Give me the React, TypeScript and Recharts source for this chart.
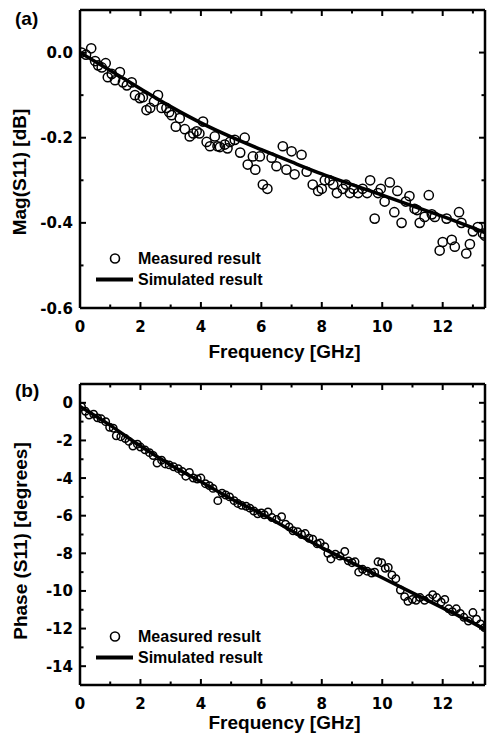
import React from "react";
import { ComposedChart, Scatter, Line, XAxis, YAxis, Legend } from "recharts";

const TICK_FONT = "'DejaVu Sans', sans-serif";
const TITLE_FONT = "'Liberation Sans', Arial, sans-serif";

const FREQ_TICKS = [0, 1, 2, 3, 4, 5, 6, 7, 8, 9, 10, 11, 12, 13];
const MAG_TICKS = [-0.6, -0.5, -0.4, -0.3, -0.2, -0.1, 0, 0.1];
const PHASE_TICKS = [-15, -14, -13, -12, -11, -10, -9, -8, -7, -6, -5, -4, -3, -2, -1, 0, 1];

// (a) magnitude, measured
const magFreq = [
  0.05, 0.2, 0.37, 0.5, 0.6, 0.72, 0.85, 0.92, 1.05, 1.16, 1.32, 1.42, 1.55, 1.71, 1.82, 1.98, 2.08, 2.2,
  2.32, 2.45, 2.58, 2.7, 2.86, 2.95, 3.03, 3.17, 3.3, 3.47, 3.63, 3.75, 3.86, 3.95, 4.07, 4.19, 4.3, 4.46,
  4.55, 4.63, 4.79, 4.88, 4.96, 5.12, 5.3, 5.45, 5.55, 5.72, 5.8, 5.95, 6.05, 6.2, 6.34, 6.5, 6.71, 6.83,
  7.0, 7.1, 7.33, 7.5, 7.7, 7.88, 8.0, 8.1, 8.26, 8.38, 8.5, 8.7, 8.8, 8.93, 9.05, 9.2, 9.35, 9.5, 9.6,
  9.75, 9.86, 9.95, 10.08, 10.25, 10.4, 10.5, 10.64, 10.78, 10.9, 11.07, 11.15, 11.24, 11.4, 11.54, 11.64,
  11.74, 11.9, 12.0, 12.13, 12.3, 12.4, 12.54, 12.62, 12.78, 12.9, 13.0, 13.16, 13.33, 13.4,
];
const magMeasured = [
  0.0, -0.005, 0.01, -0.02, -0.03, -0.035, -0.025, -0.058, -0.05, -0.065, -0.046, -0.07, -0.077, -0.07, -0.1,
  -0.107, -0.105, -0.135, -0.13, -0.115, -0.1, -0.13, -0.13, -0.14, -0.147, -0.174, -0.154, -0.18, -0.197,
  -0.19, -0.185, -0.19, -0.162, -0.21, -0.22, -0.197, -0.22, -0.222, -0.216, -0.225, -0.21, -0.205, -0.235,
  -0.2, -0.263, -0.244, -0.275, -0.244, -0.31, -0.32, -0.247, -0.267, -0.22, -0.275, -0.232, -0.286, -0.24,
  -0.28, -0.31, -0.325, -0.32, -0.3, -0.3, -0.31, -0.33, -0.32, -0.31, -0.33, -0.32, -0.33, -0.32, -0.33,
  -0.3, -0.39, -0.33, -0.32, -0.35, -0.305, -0.375, -0.325, -0.4, -0.35, -0.337, -0.367, -0.37, -0.4, -0.386,
  -0.335, -0.38, -0.386, -0.465, -0.445, -0.39, -0.44, -0.456, -0.375, -0.4, -0.472, -0.45, -0.42, -0.41,
  -0.425, -0.43,
];
// (a) magnitude, simulated
const magSimFreq = [0, 1, 2, 3, 4, 5, 6, 7, 8, 9, 10, 11, 12, 13, 13.4];
const magSimulated = [0, -0.042, -0.085, -0.127, -0.165, -0.198, -0.228, -0.257, -0.285, -0.31, -0.335, -0.36, -0.385, -0.412, -0.423];

// (b) phase, measured
const phaseFreq = [
  0.05, 0.18, 0.3, 0.45, 0.58, 0.7, 0.85, 0.98, 1.1, 1.2, 1.35, 1.5, 1.62, 1.75, 1.9, 2.0, 2.15, 2.3, 2.42,
  2.55, 2.7, 2.82, 2.95, 3.1, 3.25, 3.38, 3.5, 3.62, 3.75, 3.88, 4.0, 4.15, 4.28, 4.4, 4.56, 4.7, 4.82, 4.95,
  5.1, 5.22, 5.35, 5.5, 5.62, 5.75, 5.88, 6.0, 6.1, 6.22, 6.35, 6.5, 6.67, 6.8, 6.92, 7.05, 7.2, 7.33, 7.45,
  7.58, 7.7, 7.85, 7.95, 8.1, 8.2, 8.3, 8.45, 8.6, 8.76, 8.88, 9.0, 9.1, 9.22, 9.35, 9.5, 9.65, 9.75, 9.86,
  9.98, 10.1, 10.2, 10.32, 10.45, 10.6, 10.74, 10.85, 11.0, 11.12, 11.25, 11.4, 11.55, 11.67, 11.8, 11.95,
  12.07, 12.2, 12.32, 12.45, 12.58, 12.7, 12.85, 13.0, 13.12, 13.25, 13.38,
];
const phaseMeasured = [
  -0.2, -0.45, -0.65, -0.6, -0.8, -0.85, -1.0, -1.3, -1.35, -1.75, -1.8, -1.9, -2.05, -2.3, -2.2, -2.35, -2.5,
  -2.65, -2.8, -3.2, -3.05, -3.25, -3.3, -3.4, -3.5, -3.65, -3.9, -3.7, -4.0, -4.05, -4.0, -4.3, -4.4, -4.55,
  -5.2, -4.8, -4.9, -5.0, -5.2, -5.35, -5.45, -5.5, -5.6, -5.75, -5.9, -5.85, -5.95, -5.8, -6.1, -6.2, -6.05,
  -6.45, -6.6, -6.8, -6.85, -7.0, -6.95, -7.2, -7.25, -7.5, -7.45, -7.65, -8.0, -8.3, -8.05, -8.15, -7.9,
  -8.4, -8.5, -8.45, -9.0, -8.85, -8.95, -9.05, -9.0, -8.45, -8.5, -8.8, -8.75, -9.15, -9.35, -9.95, -10.3,
  -10.55, -10.45, -10.5, -10.35, -10.5, -10.4, -10.2, -10.35, -10.6, -10.45, -10.95, -11.1, -10.95, -11.2,
  -11.4, -11.6, -11.15, -11.5, -11.75, -11.95,
];
// (b) phase, simulated
const phaseSimFreq = [0, 1, 2, 3, 4, 5, 6, 7, 8, 9, 10, 11, 12, 13, 13.4];
const phaseSimulated = [-0.2, -1.2, -2.3, -3.3, -4.2, -5.1, -5.9, -6.8, -7.7, -8.5, -9.3, -10.1, -10.9, -11.7, -12.05];

const zip = (fs: number[], vs: number[]) => fs.map((f, i) => ({ f, v: vs[i] }));

const PLOT_LEFT = 80;
const PLOT_RIGHT = 485;
const CHART_W = 487;

interface PanelProps {
  tag: string;
  tagY: number;
  height: number;
  top: number;
  bottom: number;
  yTicks: number[];
  yDomain: [number, number];
  isMajorY: (v: number) => boolean;
  fmtY: (v: number) => string;
  yTitle: string;
  yTitleX: number;
  yTitleY: number;
  xTitleDy: number;
  legendTop: number;
  measured: { f: number; v: number }[];
  simulated: { f: number; v: number }[];
  r: number;
}

function Panel(p: PanelProps) {
  const plotBottom = p.height - p.bottom;

  const bottomTick = (t: any) => {
    const major = t.payload.value % 2 === 0;
    return (
      <g>
        <line x1={t.x} x2={t.x} y1={t.y} y2={t.y - (major ? 6 : 3.5)} stroke="#000" strokeWidth={2} />
        {major && (
          <text x={t.x} y={t.y + 23.5} textAnchor="middle" fontFamily={TICK_FONT} fontWeight="bold" fontSize={15} fill="#000">
            {t.payload.value}
          </text>
        )}
      </g>
    );
  };
  const topTick = (t: any) => {
    const major = t.payload.value % 2 === 0;
    return <line x1={t.x} x2={t.x} y1={t.y} y2={t.y + (major ? 6 : 3.5)} stroke="#000" strokeWidth={2} />;
  };
  const leftTick = (t: any) => {
    const major = p.isMajorY(t.payload.value);
    return (
      <g>
        <line x1={t.x} x2={t.x + (major ? 6 : 3.5)} y1={t.y} y2={t.y} stroke="#000" strokeWidth={2} />
        {major && (
          <text x={t.x - 7} y={t.y + 5.5} textAnchor="end" fontFamily={TICK_FONT} fontWeight="bold" fontSize={15} fill="#000">
            {p.fmtY(t.payload.value)}
          </text>
        )}
      </g>
    );
  };
  const rightTick = (t: any) => {
    const major = p.isMajorY(t.payload.value);
    return <line x1={t.x} x2={t.x - (major ? 6 : 3.5)} y1={t.y} y2={t.y} stroke="#000" strokeWidth={2} />;
  };

  const xTitle = () => (
    <text
      x={(PLOT_LEFT + PLOT_RIGHT) / 2 + 2}
      y={plotBottom + p.xTitleDy}
      textAnchor="middle"
      fontFamily={TITLE_FONT}
      fontWeight="bold"
      fontSize={19}
      fill="#000"
    >
      Frequency [GHz]
    </text>
  );
  const yTitle = () => (
    <g>
      <text x={15} y={p.tagY} fontFamily={TITLE_FONT} fontWeight="bold" fontSize={19} fill="#000">
        {p.tag}
      </text>
      <text
        x={p.yTitleX}
        y={p.yTitleY}
        transform={`rotate(-90, ${p.yTitleX}, ${p.yTitleY})`}
        textAnchor="middle"
        fontFamily={TITLE_FONT}
        fontWeight="bold"
        fontSize={19}
        fill="#000"
      >
        {p.yTitle}
      </text>
    </g>
  );

  const legend = () => (
    <div style={{ fontFamily: TITLE_FONT, fontWeight: "bold", fontSize: 16, color: "#000", lineHeight: "21px" }}>
      <div style={{ display: "flex", alignItems: "center", height: 21 }}>
        <svg width={40} height={21}>
          <circle cx={21} cy={10.5} r={4.5} fill="none" stroke="#000" strokeWidth={1.6} />
        </svg>
        <span style={{ marginLeft: 4 }}>Measured result</span>
      </div>
      <div style={{ display: "flex", alignItems: "center", height: 21 }}>
        <svg width={40} height={21}>
          <line x1={2} x2={39} y1={10.5} y2={10.5} stroke="#000" strokeWidth={4} />
        </svg>
        <span style={{ marginLeft: 4 }}>Simulated result</span>
      </div>
    </div>
  );

  return (
    <ComposedChart
      width={CHART_W}
      height={p.height}
      margin={{ top: p.top - 1, right: CHART_W - PLOT_RIGHT - 1, bottom: p.bottom - 1, left: 0 }}
    >
      <XAxis
        xAxisId="b"
        dataKey="f"
        type="number"
        domain={[0, 13.4]}
        allowDataOverflow
        ticks={FREQ_TICKS}
        interval={0}
        height={1}
        tickSize={0}
        tickMargin={0}
        tickLine={false}
        axisLine={{ stroke: "#000", strokeWidth: 2.5 }}
        tick={bottomTick}
        label={xTitle}
      />
      <XAxis
        xAxisId="t"
        orientation="top"
        dataKey="f"
        type="number"
        domain={[0, 13.4]}
        allowDataOverflow
        ticks={FREQ_TICKS}
        interval={0}
        height={1}
        tickSize={0}
        tickMargin={0}
        tickLine={false}
        axisLine={{ stroke: "#000", strokeWidth: 2.5 }}
        tick={topTick}
      />
      <YAxis
        yAxisId="l"
        dataKey="v"
        type="number"
        domain={p.yDomain}
        allowDataOverflow
        ticks={p.yTicks}
        interval={0}
        width={PLOT_LEFT}
        tickSize={0}
        tickMargin={0}
        tickLine={false}
        axisLine={{ stroke: "#000", strokeWidth: 2.5 }}
        tick={leftTick}
        label={yTitle}
      />
      <YAxis
        yAxisId="r"
        orientation="right"
        dataKey="v"
        type="number"
        domain={p.yDomain}
        allowDataOverflow
        ticks={p.yTicks}
        interval={0}
        width={1}
        tickSize={0}
        tickMargin={0}
        tickLine={false}
        axisLine={{ stroke: "#000", strokeWidth: 2.5 }}
        tick={rightTick}
      />
      <Legend
        layout="horizontal"
        verticalAlign="middle"
        align="center"
        content={legend}
        wrapperStyle={{ left: 94, top: p.legendTop, width: 200 }}
      />
      <Scatter
        xAxisId="b"
        yAxisId="l"
        data={p.measured}
        dataKey="v"
        isAnimationActive={false}
        shape={(s: any) => <circle cx={s.cx} cy={s.cy} r={p.r} fill="none" stroke="#000" strokeWidth={1.5} />}
      />
      <Line
        xAxisId="b"
        yAxisId="l"
        data={p.simulated}
        dataKey="v"
        type="monotone"
        dot={false}
        stroke="#000"
        strokeWidth={3.5}
        isAnimationActive={false}
      />
    </ComposedChart>
  );
}

export default function App() {
  return (
    <div style={{ position: "absolute", left: 0, top: 0, width: 487, height: 738, background: "#fff" }}>
      <div style={{ position: "absolute", left: 0, top: 0 }}>
        <Panel
          tag="(a)"
          tagY={25}
          height={370}
          top={10}
          bottom={62}
          yTicks={MAG_TICKS}
          yDomain={[-0.6, 0.1]}
          isMajorY={(v) => Math.round(v * 10) % 2 === 0}
          fmtY={(v) => v.toFixed(1)}
          yTitle="Mag(S11) [dB]"
          yTitleX={26}
          yTitleY={172}
          xTitleDy={50}
          legendTop={248}
          measured={zip(magFreq, magMeasured)}
          simulated={zip(magSimFreq, magSimulated)}
          r={4.6}
        />
      </div>
      <div style={{ position: "absolute", left: 0, top: 370 }}>
        <Panel
          tag="(b)"
          tagY={27}
          height={368}
          top={14}
          bottom={53}
          yTicks={PHASE_TICKS}
          yDomain={[-15, 1]}
          isMajorY={(v) => v % 2 === 0}
          fmtY={(v) => String(v)}
          yTitle="Phase (S11) [degrees]"
          yTitleX={27}
          yTitleY={171}
          xTitleDy={44}
          legendTop={256}
          measured={zip(phaseFreq, phaseMeasured)}
          simulated={zip(phaseSimFreq, phaseSimulated)}
          r={3.7}
        />
      </div>
    </div>
  );
}
